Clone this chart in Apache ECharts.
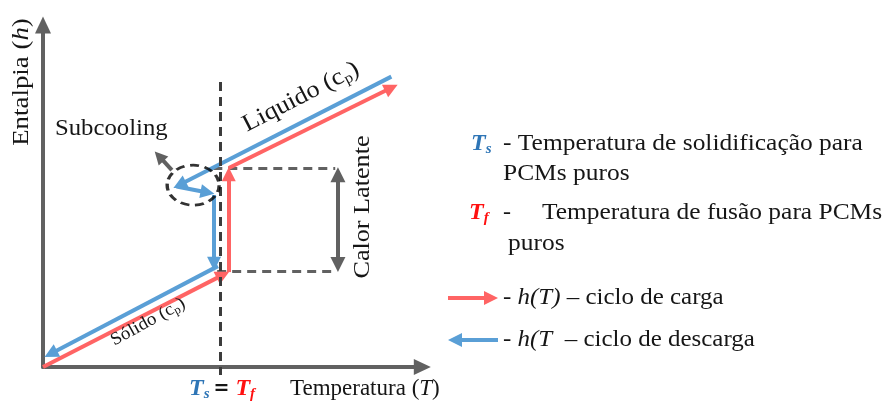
<!DOCTYPE html>
<html>
<head>
<meta charset="utf-8">
<script src="https://cdn.jsdelivr.net/npm/echarts@6/dist/echarts.min.js"></script>
<style>
  html, body { margin: 0; padding: 0; background: #fff; }
  #main { width: 885px; height: 401px; }
</style>
</head>
<body>
<div id="main"></div>
<script>
// diagram units: temperature T on x (0..98), enthalpy h on y (0..98)
const tMelt = 45.7;          // Ts = Tf
const hSolid = 27.5;         // end of the solid branch
const hLiquid = 57;          // start of the liquid branch
const latentBoxRight = 75.5;
const latentArrowT = 76.2;

// ciclo de carga (red)
const chargeSegments = [
  [[0, 0], [46.5, 26.4]],
  [[48, 27.2], [48, 55.2]],
  [[48, 57], [90, 80]]
];
// ciclo de descarga (blue)
const dischargeSegments = [
  [[90, 83.2], [35.3, 52.2]],
  [[34.5, 51.7], [42.5, 50]],
  [[44.2, 49.3], [44.2, 29.6]],
  [[45.2, 28.9], [2, 3.8]]
];
const boxSegments = [
  [[44, hLiquid], [latentBoxRight, hLiquid]],
  [[45, hSolid], [latentBoxRight, hSolid]]
];
const meltLine = [[tMelt, 81.7], [tMelt, -2.3]];
const latentArrow = [[latentArrowT, hSolid + 1.9], [latentArrowT, hLiquid - 1.9]];
const subcoolCenter = [38.8, 52.1];
const subcoolArrow = [[33.3, 56.4], [30, 60.4]];

const RED = '#ff6464';
const BLUE = '#5a9fd6';
const GREY = '#616161';
const INK = '#161616';
const FONT = '"Liberation Serif", "DejaVu Serif", serif';

function segs(list) {
  return list.map(c => ({ coords: c }));
}

const chart = echarts.init(document.getElementById('main'), null, { renderer: 'canvas' });

const base = { fontFamily: FONT, fontSize: 24, fill: INK };
const rich = {
  n: { fontFamily: FONT, fontSize: 24, fill: INK, lineHeight: 26 },
  i: { fontFamily: FONT, fontSize: 24, fill: INK, fontStyle: 'italic', lineHeight: 26 },
  b: { fontFamily: FONT, fontSize: 23, fill: INK, lineHeight: 26 },
  bi: { fontFamily: FONT, fontSize: 23, fill: INK, fontStyle: 'italic', lineHeight: 26 },
  s: { fontFamily: FONT, fontSize: 15, fill: INK, lineHeight: 14, verticalAlign: 'bottom' },
  sn: { fontFamily: FONT, fontSize: 18, fill: INK, lineHeight: 20 },
  ss: { fontFamily: FONT, fontSize: 12, fill: INK, lineHeight: 11, verticalAlign: 'bottom' },
  ts: { fontFamily: FONT, fontSize: 24, fill: '#2e75b6', fontStyle: 'italic', fontWeight: 'bold', lineHeight: 26 },
  tss: { fontFamily: FONT, fontSize: 15, fill: '#2e75b6', fontStyle: 'italic', fontWeight: 'bold', lineHeight: 15, verticalAlign: 'bottom' },
  tf: { fontFamily: FONT, fontSize: 24, fill: '#ff1010', fontStyle: 'italic', fontWeight: 'bold', lineHeight: 26 },
  tfs: { fontFamily: FONT, fontSize: 15, fill: '#ff1010', fontStyle: 'italic', fontWeight: 'bold', lineHeight: 15, verticalAlign: 'bottom' },
  eq: { fontFamily: 'DejaVu Sans', fontSize: 19, fill: INK, fontWeight: 'bold', lineHeight: 26, padding: [0, 6, 0, 4] }
};

function txt(x, y, text, opts) {
  opts = opts || {};
  return {
    type: 'text', x: x, y: y, rotation: opts.rotation || 0, scaleX: opts.scale || 1, z: 20,
    style: Object.assign({}, base, {
      text: text, rich: rich,
      textAlign: opts.align || 'left', textVerticalAlign: 'middle'
    })
  };
}

chart.setOption({
  animation: false,
  grid: { left: 43, right: 462.7, top: 25, bottom: 34, containLabel: false },
  xAxis: {
    type: 'value', min: 0, max: 98,
    axisLine: { show: true, onZero: true, symbol: ['none', 'triangle'], symbolSize: [16, 17],
      lineStyle: { color: GREY, width: 4 } },
    axisTick: { show: false }, axisLabel: { show: false }, splitLine: { show: false }
  },
  yAxis: {
    type: 'value', min: 0, max: 98,
    axisLine: { show: true, onZero: true, symbol: ['none', 'triangle'], symbolSize: [16, 17],
      lineStyle: { color: GREY, width: 4 } },
    axisTick: { show: false }, axisLabel: { show: false }, splitLine: { show: false }
  },
  series: [
    {
      type: 'lines', coordinateSystem: 'cartesian2d', clip: false, z: 3,
      symbol: ['none', 'none'],
      lineStyle: { color: GREY, width: 3, type: [9, 6], opacity: 1 },
      data: segs(boxSegments)
    },
    {
      type: 'lines', coordinateSystem: 'cartesian2d', clip: false, z: 4,
      symbol: ['triangle', 'triangle'], symbolSize: [15, 15],
      lineStyle: { color: GREY, width: 4, opacity: 1 },
      data: segs([latentArrow])
    },
    {
      type: 'lines', coordinateSystem: 'cartesian2d', clip: false, z: 5,
      symbol: ['none', 'triangle'], symbolSize: [15, 14],
      lineStyle: { color: RED, width: 4, opacity: 1 },
      data: segs(chargeSegments)
    },
    {
      type: 'lines', coordinateSystem: 'cartesian2d', clip: false, z: 5,
      symbol: ['none', 'triangle'], symbolSize: [15, 14],
      lineStyle: { color: BLUE, width: 4, opacity: 1 },
      data: segs(dischargeSegments)
    },
    {
      type: 'lines', coordinateSystem: 'cartesian2d', clip: false, z: 6,
      symbol: ['none', 'none'],
      lineStyle: { color: '#3c3c3c', width: 3, type: [9, 6], opacity: 1 },
      data: segs([meltLine])
    },
    {
      type: 'lines', coordinateSystem: 'cartesian2d', clip: false, z: 6,
      symbol: ['none', 'triangle'], symbolSize: [14, 13],
      lineStyle: { color: GREY, width: 4, opacity: 1 },
      data: segs([subcoolArrow])
    },
    {
      type: 'scatter', z: 7, silent: true,
      symbol: 'circle', symbolSize: [52, 40],
      itemStyle: { color: 'rgba(0,0,0,0)', borderColor: '#000', borderWidth: 3, borderType: [8, 5] },
      data: [subcoolCenter]
    }
  ],
  graphic: [
    txt(22, 82, '{n|Entalpia (}{i|h}{n|)}', { rotation: Math.PI / 2, align: 'center', scale: 1.12 }),
    txt(55, 129, 'Subcooling', { scale: 1.03 }),
    txt(301, 97, '{n|Liquido (c}{s|p}{n|)}', { rotation: 0.475, align: 'center', scale: 1.1 }),
    txt(148, 322, '{sn|Sólido (c}{ss|p}{sn|)}', { rotation: 0.5, align: 'center', scale: 1.06 }),
    txt(363, 207, 'Calor Latente', { rotation: Math.PI / 2, align: 'center', scale: 1.09 }),
    txt(189, 389, '{ts|T}{tss|s}{eq|=}{tf|T}{tfs|f}'),
    txt(290, 389, '{b|Temperatura (}{bi|T}{b|)}'),

    txt(471, 144, '{ts|T}{tss|s}'),
    txt(503, 144, '- Temperatura de solidificação para', { scale: 1.06 }),
    txt(503, 174, 'PCMs puros', { scale: 1.06 }),
    txt(469, 213, '{tf|T}{tfs|f}'),
    txt(503, 213, '-'),
    txt(542, 213, 'Temperatura de fusão para PCMs', { scale: 1.06 }),
    txt(508, 244, 'puros', { scale: 1.06 }),

    { type: 'line', z: 20, shape: { x1: 448, y1: 298, x2: 486, y2: 298 },
      style: { stroke: RED, lineWidth: 4 } },
    { type: 'polygon', z: 20, shape: { points: [[484, 291], [498, 298], [484, 305]] },
      style: { fill: RED } },
    txt(503, 298, '{n|- }{i|h(T)}{n| – ciclo de carga}', { scale: 1.04 }),
    { type: 'line', z: 20, shape: { x1: 460, y1: 340, x2: 498, y2: 340 },
      style: { stroke: BLUE, lineWidth: 4 } },
    { type: 'polygon', z: 20, shape: { points: [[462, 333], [448, 340], [462, 347]] },
      style: { fill: BLUE } },
    txt(503, 340, '{n|- }{i|h(T}{n|  – ciclo de descarga}', { scale: 1.04 })
  ]
});
</script>
</body>
</html>
